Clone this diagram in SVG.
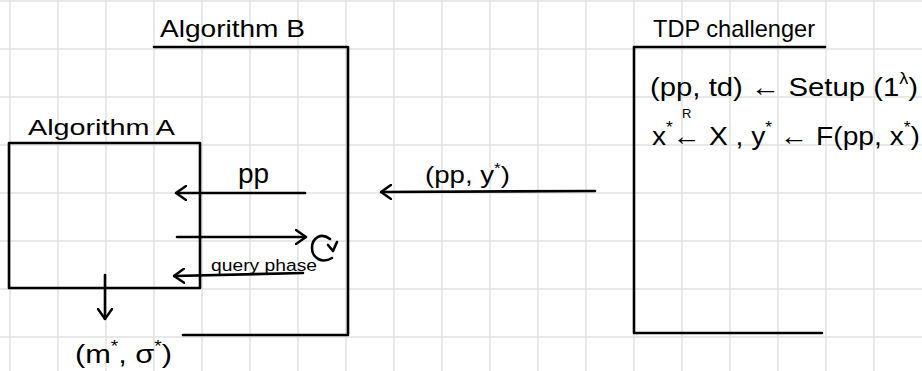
<svg xmlns="http://www.w3.org/2000/svg" width="922" height="371" viewBox="0 0 922 371">
<defs>
<style>
.grid line{stroke:#e0e0e0;stroke-width:1.5}
.ln{fill:none;stroke:#000;stroke-width:2.6;stroke-linecap:round;stroke-linejoin:round}
.t{font-family:"Liberation Sans","DejaVu Sans",sans-serif;fill:#000}
</style>
<marker id="ah" viewBox="0 0 12 16" refX="11" refY="8" markerWidth="12" markerHeight="16" markerUnits="userSpaceOnUse" orient="auto">
<path d="M1,1 L11,8 L1,15" fill="none" stroke="#000" stroke-width="2.4" stroke-linecap="round" stroke-linejoin="round"/>
</marker>
</defs>
<rect width="922" height="371" fill="#fff"/>
<g class="grid">
<line x1="10" y1="0" x2="10" y2="371"/><line x1="58" y1="0" x2="58" y2="371"/><line x1="106" y1="0" x2="106" y2="371"/><line x1="154" y1="0" x2="154" y2="371"/><line x1="202" y1="0" x2="202" y2="371"/><line x1="250" y1="0" x2="250" y2="371"/><line x1="298" y1="0" x2="298" y2="371"/><line x1="346" y1="0" x2="346" y2="371"/><line x1="394" y1="0" x2="394" y2="371"/><line x1="442" y1="0" x2="442" y2="371"/><line x1="490" y1="0" x2="490" y2="371"/><line x1="538" y1="0" x2="538" y2="371"/><line x1="586" y1="0" x2="586" y2="371"/><line x1="634" y1="0" x2="634" y2="371"/><line x1="682" y1="0" x2="682" y2="371"/><line x1="730" y1="0" x2="730" y2="371"/><line x1="778" y1="0" x2="778" y2="371"/><line x1="826" y1="0" x2="826" y2="371"/><line x1="874" y1="0" x2="874" y2="371"/>
<line x1="0" y1="1" x2="922" y2="1"/><line x1="0" y1="49" x2="922" y2="49"/><line x1="0" y1="97" x2="922" y2="97"/><line x1="0" y1="145" x2="922" y2="145"/><line x1="0" y1="193" x2="922" y2="193"/><line x1="0" y1="241" x2="922" y2="241"/><line x1="0" y1="289" x2="922" y2="289"/><line x1="0" y1="337" x2="922" y2="337"/>
</g>
<g id="algorithm-b">
<path class="ln" d="M154,47 H348 V335 H183"/>
<text class="t" x="160" y="37" font-size="24" textLength="145" lengthAdjust="spacingAndGlyphs">Algorithm B</text>
</g>
<g id="algorithm-a">
<rect class="ln" x="9" y="143" width="191" height="145"/>
<text class="t" x="28" y="135" font-size="22" textLength="147" lengthAdjust="spacingAndGlyphs">Algorithm A</text>
</g>
<g id="tdp-challenger">
<path class="ln" d="M825,47 H634 V333 H822"/>
<text class="t" x="653" y="37" font-size="24" textLength="162" lengthAdjust="spacingAndGlyphs">TDP challenger</text>
<text class="t" x="650" y="96" font-size="26" textLength="268" lengthAdjust="spacingAndGlyphs">(pp, td) ← Setup (1<tspan font-size="16" dy="-12">λ</tspan><tspan dy="12">)</tspan></text>
<text class="t" x="652" y="145" font-size="26" textLength="268" lengthAdjust="spacingAndGlyphs">x<tspan font-size="16" dy="-12">*</tspan><tspan dy="12">← X ,  y</tspan><tspan font-size="16" dy="-12">*</tspan><tspan dy="12"> ← F(pp, x</tspan><tspan font-size="16" dy="-12">*</tspan><tspan dy="12">)</tspan></text>
<text class="t" x="682" y="118" font-size="13">R</text>
</g>
<g id="connectors">
<line class="ln" x1="595" y1="191" x2="381" y2="192" marker-end="url(#ah)"/>
<line class="ln" x1="305" y1="193" x2="176" y2="193" marker-end="url(#ah)"/>
<line class="ln" x1="177" y1="237" x2="306" y2="237" marker-end="url(#ah)"/>
<line class="ln" x1="303" y1="273" x2="174" y2="276" marker-end="url(#ah)"/>
<line class="ln" x1="105" y1="275" x2="105" y2="319" marker-end="url(#ah)"/>
<path class="ln" d="M330,239 C321,232 312,238 312,248 C312,258 322,264 332,258" />
<path class="ln" d="M328,245 L333,251 L337,242"/>
</g>
<g id="labels">
<text class="t" x="238" y="183" font-size="28">pp</text>
<text class="t" x="211" y="271" font-size="16" textLength="106" lengthAdjust="spacingAndGlyphs">query phase</text>
<text class="t" x="425" y="183" font-size="24" textLength="85" lengthAdjust="spacingAndGlyphs">(pp, y<tspan font-size="15" dy="-10">*</tspan><tspan dy="10">)</tspan></text>
<text class="t" x="75" y="363" font-size="26" textLength="97" lengthAdjust="spacingAndGlyphs">(m<tspan font-size="16" dy="-11">*</tspan><tspan dy="11">, σ</tspan><tspan font-size="16" dy="-11">*</tspan><tspan dy="11">)</tspan></text>
</g>
</svg>
